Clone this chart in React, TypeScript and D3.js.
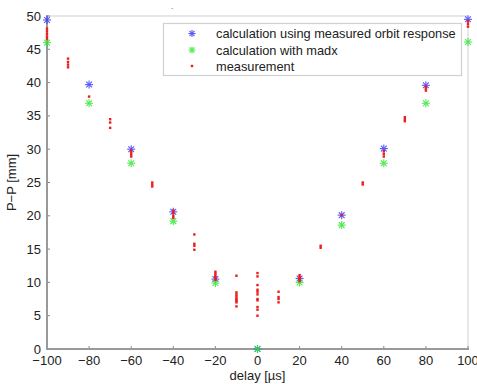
import React from "react";
import * as d3 from "d3";

const delays = [-100, -80, -60, -40, -20, 0, 20, 40, 60, 80, 100];
const calcMeasured = [49.4, 39.7, 30.0, 20.6, 10.5, 0, 10.6, 20.1, 30.1, 39.6, 49.5];
const calcMadx = [46.0, 36.9, 27.9, 19.2, 9.9, 0, 10.0, 18.6, 27.9, 36.9, 46.1];

const measDelays = [-100, -90, -80, -70, -60, -50, -40, -30, -20, -10, 0, 10, 20, 30, 40, 50, 60, 70, 80, 90, 100];
const measValues: number[][] = [
  [48.1, 47.7, 47.3, 46.9, 46.6],
  [43.6, 43.1, 42.7, 42.3],
  [37.9],
  [34.5, 34.0, 33.2],
  [29.8, 29.5, 29.2, 28.9],
  [25.0, 24.7, 24.4],
  [20.8, 20.4, 20.0, 19.7],
  [17.2, 15.8, 15.5, 14.9],
  [11.6, 11.3, 11.0, 10.8, 10.6, 10.4],
  [11.0, 8.5, 8.2, 7.9, 7.6, 7.4, 7.2, 7.0, 6.4],
  [11.4, 10.9, 9.6, 8.9, 8.6, 8.2, 7.5, 7.3, 6.3, 5.9, 5.0],
  [8.6, 7.8, 7.5, 7.0],
  [11.1, 10.8, 10.6, 10.4, 10.2],
  [15.5, 15.2],
  [20.1],
  [25.0, 24.7],
  [29.7, 29.3, 28.9],
  [34.8, 34.5, 34.2],
  [39.4, 39.1, 38.8],
  [44.7, 44.3, 43.8],
  [49.2, 48.8, 48.4],
];

const xTicks = [-100, -80, -60, -40, -20, 0, 20, 40, 60, 80, 100];
const yTicks = [0, 5, 10, 15, 20, 25, 30, 35, 40, 45, 50];
const legendLabels = ["calculation using measured orbit response", "calculation with madx", "measurement"];

const W = 477, H = 384;
const L = 47, R = 468, T = 16, B = 349;
const FONT = "'Liberation Sans', Arial, sans-serif";
const BLUE = "#3a3aff";
const GREEN = "#33e633";
const RED = "#ee1c1c";

function Star({ cx, cy, color, r = 4 }: { cx: number; cy: number; color: string; r?: number }) {
  const d = r * 0.72;
  return (
    <g stroke={color} strokeWidth={1.1} opacity={0.85}>
      <line x1={cx - r} y1={cy} x2={cx + r} y2={cy} />
      <line x1={cx} y1={cy - r} x2={cx} y2={cy + r} />
      <line x1={cx - d} y1={cy - d} x2={cx + d} y2={cy + d} />
      <line x1={cx - d} y1={cy + d} x2={cx + d} y2={cy - d} />
    </g>
  );
}

export default function App() {
  const x = d3.scaleLinear().domain([-100, 100]).range([L, R]);
  const y = d3.scaleLinear().domain([0, 50]).range([B, T]);

  return (
    <svg width={W} height={H} style={{ position: "absolute", left: 0, top: 0, background: "#fff" }}>
      <text x={171} y={9} fontFamily={FONT} fontSize={8} fill="#333">.</text>
      {/* box */}
      <line x1={L} y1={T} x2={R} y2={T} stroke="#cfcfcf" strokeWidth={1.2} />
      <line x1={R} y1={T} x2={R} y2={B} stroke="#d8d8d8" strokeWidth={1.2} />
      {/* ticks */}
      {xTicks.map((t) => (
        <g key={"xt" + t}>
          <line x1={x(t)} y1={B} x2={x(t)} y2={B - 3} stroke="#888" strokeWidth={1} />
          <text x={x(t)} y={365} textAnchor="middle" fontFamily={FONT} fontSize={13} fill="#222">
            {t < 0 ? "\u2212" + Math.abs(t) : String(t)}
          </text>
        </g>
      ))}
      {yTicks.map((t) => (
        <g key={"yt" + t}>
          <line x1={L} y1={y(t)} x2={L + 3} y2={y(t)} stroke="#888" strokeWidth={1} />
          <text x={41} y={y(t) + 4.5} textAnchor="end" fontFamily={FONT} fontSize={13} fill="#222">
            {t}
          </text>
        </g>
      ))}
      <line x1={L} y1={T - 1} x2={L} y2={B + 1} stroke="#999" strokeWidth={2} />
      <line x1={L - 1} y1={B} x2={R + 1} y2={B} stroke="#999" strokeWidth={2} />
      {/* labels */}
      <text x={(L + R) / 2} y={380} textAnchor="middle" fontFamily={FONT} fontSize={13} fill="#222">
        delay [µs]
      </text>
      <text transform={`translate(16,${(T + B) / 2}) rotate(-90)`} textAnchor="middle" fontFamily={FONT} fontSize={13} fill="#222">
        P−P [mm]
      </text>
      {/* data */}
      {delays.map((d, i) => (
        <Star key={"b" + i} cx={x(d)} cy={y(calcMeasured[i])} color={BLUE} />
      ))}
      {delays.map((d, i) => (
        <Star key={"g" + i} cx={x(d)} cy={y(calcMadx[i])} color={GREEN} />
      ))}
      {measDelays.map((d, i) =>
        measValues[i].map((v, j) => (
          <rect key={"m" + i + "-" + j} x={x(d) - 1.2} y={y(v) - 1.2} width={2.4} height={2.4} fill={RED} />
        ))
      )}
      {/* legend */}
      <rect x={163.5} y={23.5} width={298} height={52} fill="#fff" stroke="#d0d0d0" strokeWidth={1.2} />
      <Star cx={192} cy={33.5} color={BLUE} r={3.5} />
      <Star cx={192} cy={50} color={GREEN} r={3.5} />
      <rect x={190.8} y={64.8} width={2.4} height={2.4} fill={RED} />
      {legendLabels.map((s, i) => (
        <text key={s} x={216} y={38.3 + i * 16.3} fontFamily={FONT} fontSize={12.8} fill="#222">
          {s}
        </text>
      ))}
    </svg>
  );
}
